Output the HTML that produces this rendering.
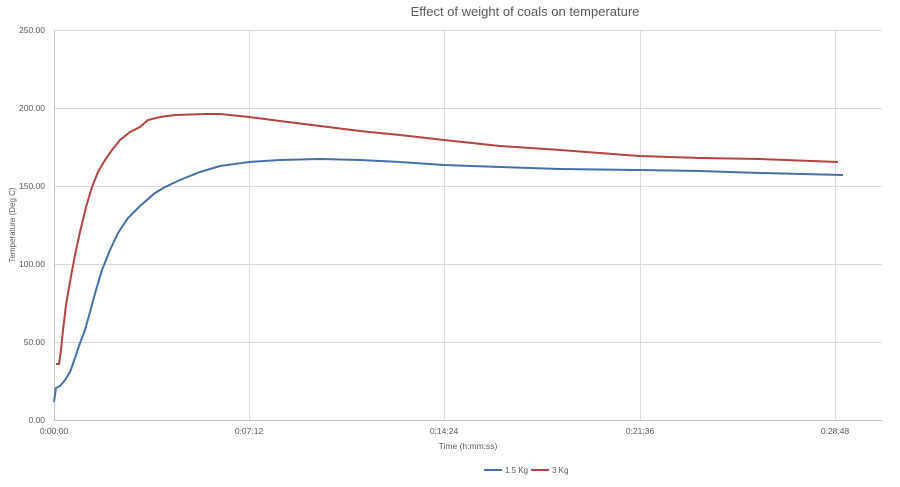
<!DOCTYPE html><html><head><style>body{margin:0;background:#fff}svg{font-family:"Liberation Sans",sans-serif}</style></head><body>
<svg width="900" height="482" viewBox="0 0 900 482">
<text x="525" y="16" font-size="13" fill="#595959" text-anchor="middle">Effect of weight of coals on temperature</text>
<g stroke="#d9d9d9" stroke-width="1">
<line x1="54" y1="30.5" x2="882" y2="30.5"/><line x1="54" y1="108.5" x2="882" y2="108.5"/><line x1="54" y1="186.5" x2="882" y2="186.5"/><line x1="54" y1="264.5" x2="882" y2="264.5"/><line x1="54" y1="342.5" x2="882" y2="342.5"/>
<line x1="249.5" y1="30" x2="249.5" y2="420"/><line x1="444.5" y1="30" x2="444.5" y2="420"/><line x1="640.5" y1="30" x2="640.5" y2="420"/><line x1="835.5" y1="30" x2="835.5" y2="420"/>
<line x1="54.5" y1="30" x2="54.5" y2="420" stroke="#bfbfbf"/><line x1="54" y1="420.5" x2="882" y2="420.5" stroke="#bfbfbf"/>
</g>
<g font-size="8.5" fill="#595959" text-anchor="end">
<text x="45" y="33">250.00</text><text x="45" y="111">200.00</text><text x="45" y="189">150.00</text><text x="45" y="267">100.00</text><text x="45" y="345">50.00</text><text x="45" y="423">0.00</text>
</g>
<g font-size="8.5" fill="#595959" text-anchor="middle">
<text x="54" y="434">0:00:00</text><text x="249" y="434">0:07:12</text><text x="444" y="434">0:14:24</text><text x="640" y="434">0:21:36</text><text x="835" y="434">0:28:48</text>
<text x="468" y="449">Time (h:mm:ss)</text>
<text transform="translate(15,225) rotate(-90)" font-size="8">Temperature (Deg C)</text>
</g>
<polyline fill="none" stroke="#4472a8" stroke-width="2" points="54,402 56,388 60,386 65,380 70,372 75,358 80,343 85,330 90,312 96,290 102,270 110,250 118,233 128,218 140,206 155,193 165,187 180,180 200,172 220,166 249,162 280,160 320,159 360,160 400,162 444,165 500,167 560,169 640,170 700,171 760,173 843,175"/>
<polyline fill="none" stroke="#b5443f" stroke-width="2" points="56,364 59,364 61,350 63,330 66,305 70,282 75,255 80,232 86,207 92,187 98,172 105,160 112,150 120,140 130,132 140,127 148,120 160,117 175,115 205,114 220,114 249,117 280,121 320,126 360,131 400,135 444,140 500,146 560,150 640,156 700,158 760,159 838,162"/>
<line x1="484" y1="470" x2="502" y2="470" stroke="#4472a8" stroke-width="2"/>
<text x="505" y="473" font-size="8" fill="#595959">1.5 Kg</text>
<line x1="531" y1="470" x2="549" y2="470" stroke="#b5443f" stroke-width="2"/>
<text x="552" y="473" font-size="8" fill="#595959">3 Kg</text>
</svg></body></html>
